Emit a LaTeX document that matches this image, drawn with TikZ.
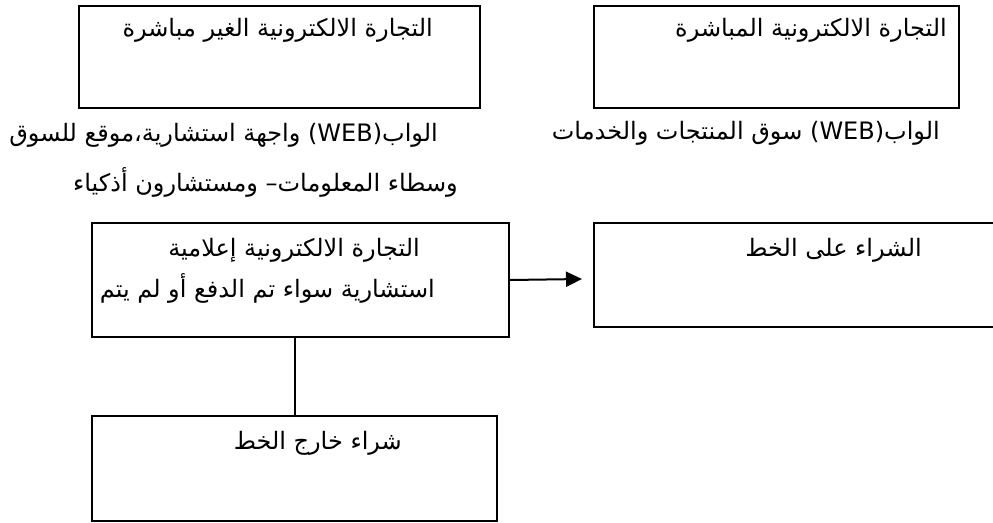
\documentclass[tikz,border=0pt]{standalone}
\usepackage{fontspec}
\newfontfamily\arabicfont[Script=Arabic]{DejaVu Sans}
\TeXXeTstate=1
\usetikzlibrary{arrows.meta}

\begin{document}
\begin{tikzpicture}[x = 1pt, y = -1pt,
    box/.style = {draw, line width = 2pt, inner sep = 0pt, anchor = north west},
    artext/.style = {font = \arabicfont\fontsize{24}{28}\selectfont, anchor = east, inner sep = 0pt}]
	\useasboundingbox (0,0) rectangle (993,522);
	\begin{scope}
		\node [box, minimum width = 401pt, minimum height = 102pt] (indirect) at (78,5) {};
		\node [box, minimum width = 365pt, minimum height = 102pt] (direct) at (593,5) {};
		\node [box, minimum width = 417pt, minimum height = 114pt] (info) at (91,222) {};
		\node [box, minimum width = 404pt, minimum height = 104pt] (online) at (593,222) {};
		\node [box, minimum width = 405pt, minimum height = 105pt] (offline) at (91,415) {};
	\end{scope}
	\begin{scope}
		\node [artext] (indirecttext) at (433,30) {\beginR التجارة الالكترونية الغير مباشرة\endR};
		\node [artext] (directtext) at (947,30) {\beginR التجارة الالكترونية المباشرة\endR};
		\node [artext] (webdirect) at (940,133) {\beginR الواب\beginL(WEB)\endL{} سوق المنتجات والخدمات\endR};
		\node [artext] (webindirect) at (438,135) {\beginR الواب\beginL(WEB)\endL{} واجهة استشارية،موقع للسوق\endR};
		\node [artext] (brokers) at (458,182) {\beginR وسطاء المعلومات– ومستشارون أذكياء\endR};
		\node [artext] (infotext) at (420,250) {\beginR التجارة الالكترونية إعلامية\endR};
		\node [artext] (infotexttwo) at (435,288) {\beginR استشارية سواء تم الدفع أو لم يتم\endR};
		\node [artext] (onlinetext) at (922,250) {\beginR الشراء على الخط\endR};
		\node [artext] (offlinetext) at (402,443) {\beginR شراء خارج الخط\endR};
	\end{scope}
	\begin{scope}[line width = 2pt]
		\coordinate (arrowtip) at (582,279);
		\draw [-{Triangle[length = 16pt, width = 15pt]}] (info.east) -- (arrowtip);
		\draw (offline.north |- info.south) -- (offline.north);
	\end{scope}
\end{tikzpicture}
\end{document}
